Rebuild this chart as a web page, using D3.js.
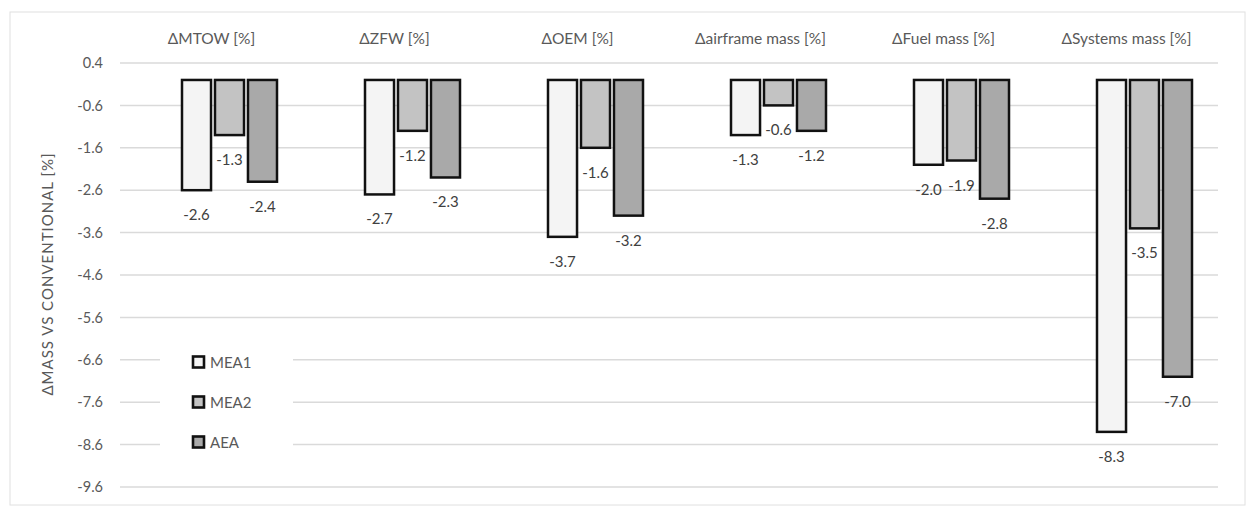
<!DOCTYPE html>
<html>
<head>
<meta charset="utf-8">
<script src="https://cdn.jsdelivr.net/npm/d3@7"></script>
<style>
  html, body { margin: 0; padding: 0; background: #fff; }
  svg { display: block; }
  text { font-family: Lato, "Open Sans", "Liberation Sans", sans-serif; }
</style>
</head>
<body>
<svg id="chart" width="1248" height="509"></svg>
<script>
const categories = ["ΔMTOW [%]", "ΔZFW [%]", "ΔOEM [%]", "Δairframe mass [%]", "ΔFuel mass [%]", "ΔSystems mass [%]"];
const seriesNames = ["MEA1", "MEA2", "AEA"];
const mea1 = [-2.6, -2.7, -3.7, -1.3, -2.0, -8.3];
const mea2 = [-1.3, -1.2, -1.6, -0.6, -1.9, -3.5];
const aea  = [-2.4, -2.3, -3.2, -1.2, -2.8, -7.0];
const tickValues = [0.4, -0.6, -1.6, -2.6, -3.6, -4.6, -5.6, -6.6, -7.6, -8.6, -9.6];
const yTitle = "ΔMASS VS CONVENTIONAL [%]";

const seriesValues = [mea1, mea2, aea];
const colors = { MEA1: "#f4f4f4", MEA2: "#c3c3c3", AEA: "#a9a9a9" };
const fmt = v => v.toFixed(1);

const svg = d3.select("#chart");

// outer frame
svg.append("rect").attr("x", 10).attr("y", 12).attr("width", 1235).attr("height", 493)
  .attr("fill", "none").attr("stroke", "#e0e0e0").attr("stroke-width", 1);

const left = 120, right = 1218;
const x0 = d3.scaleBand().domain(categories).range([left, right]);
const x1 = d3.scaleBand().domain(seriesNames).range([62, 157]).paddingInner(0.12);
const y = d3.scaleLinear().domain([0.4, -9.6]).range([63, 487]);

// gridlines
svg.append("g").selectAll("line").data(tickValues).join("line")
  .attr("x1", left).attr("x2", right)
  .attr("y1", d => y(d)).attr("y2", d => y(d))
  .attr("stroke", "#dadada").attr("stroke-width", 1.5);

// y axis tick labels
const yAxis = d3.axisLeft(y).tickValues(tickValues).tickFormat(fmt).tickSize(0).tickPadding(0);
const yg = svg.append("g").attr("transform", "translate(103,0)").call(yAxis);
yg.select(".domain").remove();
yg.selectAll("text").attr("font-size", 14.5).attr("fill", "#595959")
  .style("font-family", "Lato, 'Open Sans', sans-serif");

// y title
svg.append("text")
  .attr("transform", "translate(47,274) rotate(-90)")
  .attr("text-anchor", "middle").attr("dominant-baseline", "central")
  .attr("font-size", 15).attr("fill", "#595959").attr("letter-spacing", 1)
  .text(yTitle);

// category labels
svg.append("g").selectAll("text").data(categories).join("text")
  .attr("x", d => x0(d) + x0.bandwidth() / 2)
  .attr("y", 38)
  .attr("text-anchor", "middle").attr("dominant-baseline", "central")
  .attr("font-size", 15.5).attr("fill", "#595959")
  .text(d => d);

// legend background (covers gridlines)
svg.append("rect").attr("x", 160).attr("y", 343).attr("width", 133).attr("height", 118).attr("fill", "#fff");

// bars
const data = [];
categories.forEach((c, i) => {
  seriesNames.forEach((s, j) => data.push({ cat: c, series: s, value: seriesValues[j][i] }));
});

svg.append("g").selectAll("rect").data(data).join("rect")
  .attr("x", d => x0(d.cat) + x1(d.series))
  .attr("width", x1.bandwidth())
  .attr("y", d => y(Math.max(0, d.value)))
  .attr("height", d => Math.abs(y(d.value) - y(0)))
  .attr("fill", d => colors[d.series])
  .attr("stroke", "#111").attr("stroke-width", 2.5);

// value labels
svg.append("g").selectAll("text").data(data).join("text")
  .attr("x", d => x0(d.cat) + x1(d.series) + x1.bandwidth() / 2)
  .attr("y", d => y(d.value) + 24)
  .attr("text-anchor", "middle").attr("dominant-baseline", "central")
  .attr("font-size", 15).attr("fill", "#404040")
  .text(d => fmt(d.value));

// legend
const legend = svg.append("g").selectAll("g").data(seriesNames).join("g")
  .attr("transform", (d, i) => `translate(193, ${362 + i * 40})`);
legend.append("rect").attr("x", 0).attr("y", -5.5).attr("width", 11).attr("height", 11)
  .attr("fill", d => colors[d]).attr("stroke", "#111").attr("stroke-width", 2.6);
legend.append("text").attr("x", 17).attr("y", 0).attr("dominant-baseline", "central")
  .attr("font-size", 15).attr("fill", "#595959").text(d => d);
</script>
</body>
</html>
